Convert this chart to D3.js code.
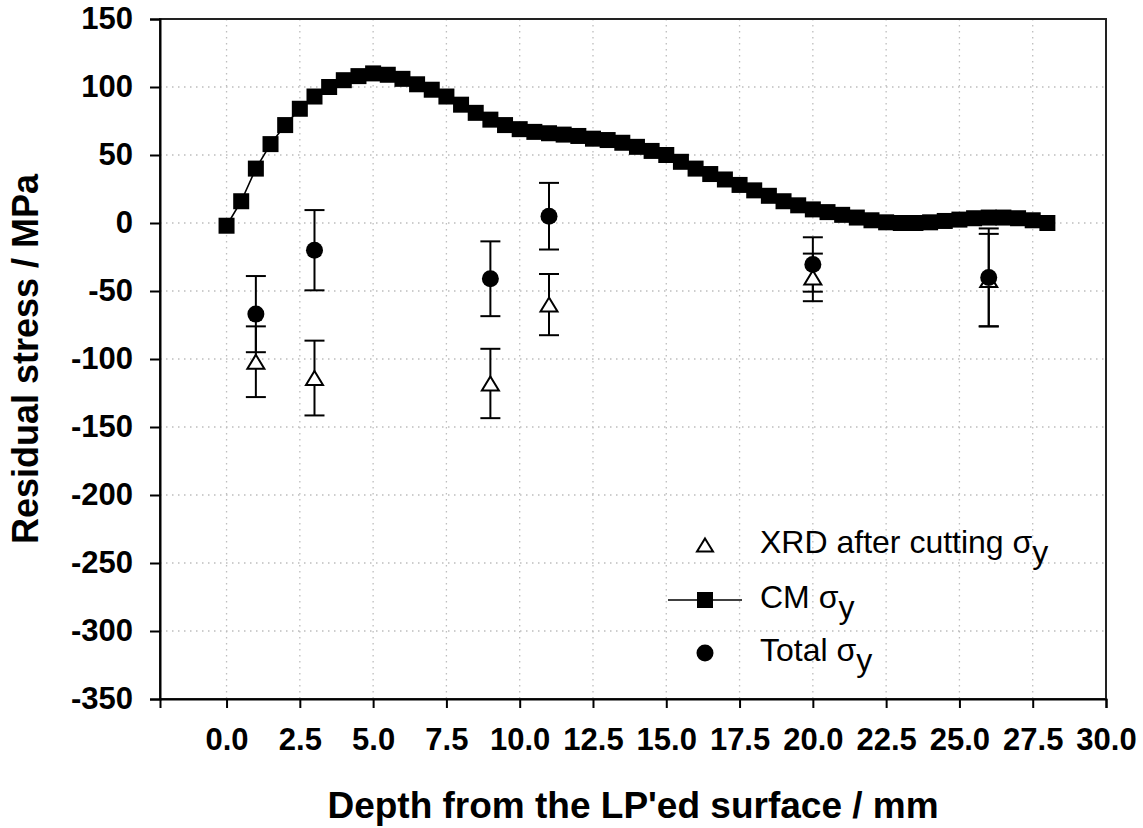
<!DOCTYPE html>
<html>
<head>
<meta charset="utf-8">
<script src="https://cdn.jsdelivr.net/npm/d3@7"></script>
<style>
  body { margin: 0; background: #fff; }
  text { font-family: "Liberation Sans", Arial, sans-serif; }
</style>
</head>
<body>
<svg id="chart"></svg>
<script>
// CM sigma_y profile (depth in mm, stress in MPa)
const cmDepth = [0, 0.5, 1, 1.5, 2, 2.5, 3, 3.5, 4, 4.5, 5, 5.5, 6, 6.5, 7, 7.5, 8, 8.5, 9, 9.5,
                 10, 10.5, 11, 11.5, 12, 12.5, 13, 13.5, 14, 14.5, 15, 15.5, 16, 16.5, 17, 17.5,
                 18, 18.5, 19, 19.5, 20, 20.5, 21, 21.5, 22, 22.5, 23, 23.5, 24, 24.5, 25, 25.5,
                 26, 26.5, 27, 27.5, 28];
const cmStress = [-2, 16, 40, 58, 72, 84, 93, 100, 105, 108, 110, 109, 106, 102, 98, 93, 87, 81, 76, 72,
                  69, 67, 66, 65, 64, 62, 61, 59, 56, 53, 50, 45, 40, 36, 32, 28,
                  24, 20, 16, 13, 10, 8, 6, 4, 2, 0.5, 0, 0, 0.5, 1.5, 2.5, 3.5,
                  4, 4, 3.5, 2, 0];

// XRD after cutting sigma_y
const xrdDepth = [1, 3, 9, 11, 20, 26];
const xrdStress = [-102, -114, -118, -60, -40, -42];
const xrdErr = [26, 27.5, 25.5, 22.5, 17.5, 34];

// Total sigma_y
const totDepth = [1, 3, 9, 11, 20, 26];
const totStress = [-67, -20, -41, 5, -30.5, -40];
const totErr = [28, 29.5, 27.5, 24.5, 20, 36];

const xTicks = [0, 2.5, 5, 7.5, 10, 12.5, 15, 17.5, 20, 22.5, 25, 27.5, 30];
const yTicks = [150, 100, 50, 0, -50, -100, -150, -200, -250, -300, -350];

const legendItems = ["XRD after cutting ", "CM ", "Total "];

const W = 1143, H = 828;
const L = 160, R = 1106, T = 19, B = 699;

const svg = d3.select("#chart").attr("width", W).attr("height", H);

const x = d3.scaleLinear().domain([-2.27, 30]).range([L, R]);
const y = d3.scaleLinear().domain([-350, 150]).range([B, T]);

// dotted grid
const grid = svg.append("g");
grid.selectAll("line.gx")
  .data(xTicks.filter(d => d < 30))
  .enter().append("line")
    .attr("x1", d => x(d)).attr("x2", d => x(d))
    .attr("y1", T).attr("y2", B)
    .attr("stroke", "#bdbdbd").attr("stroke-width", 1.3)
    .attr("stroke-dasharray", "1.5,4.5");
grid.selectAll("line.gy")
  .data(yTicks.filter(d => d < 150 && d > -350))
  .enter().append("line")
    .attr("x1", L).attr("x2", R)
    .attr("y1", d => y(d)).attr("y2", d => y(d))
    .attr("stroke", "#bdbdbd").attr("stroke-width", 1.3)
    .attr("stroke-dasharray", "1.5,4.5");

// frame
svg.append("rect")
  .attr("x", L).attr("y", T).attr("width", R - L).attr("height", B - T)
  .attr("fill", "none").attr("stroke", "#222").attr("stroke-width", 2);

// axes
const xAxis = svg.append("g")
  .attr("transform", `translate(0,${B})`)
  .call(d3.axisBottom(x).tickValues(xTicks).tickSize(9).tickPadding(20)
    .tickFormat(d3.format(".1f")));
const yAxis = svg.append("g")
  .attr("transform", `translate(${L},0)`)
  .call(d3.axisLeft(y).tickValues(yTicks).tickSize(10).tickPadding(17)
    .tickFormat(d => String(d)));

[xAxis, yAxis].forEach(a => {
  a.select(".domain").attr("stroke", "#000").attr("stroke-width", 2);
  a.selectAll(".tick line").attr("stroke", "#000").attr("stroke-width", 2);
  a.selectAll(".tick text")
    .attr("fill", "#000")
    .style("font-size", "31px").style("font-weight", "bold")
    .style("font-family", "'Liberation Sans', Arial, sans-serif");
});
xAxis.selectAll(".tick text").attr("dy", "0.71em");

// axis titles
svg.append("text")
  .attr("x", (L + R) / 2).attr("y", 818)
  .attr("text-anchor", "middle")
  .style("font-size", "37px").style("font-weight", "bold")
  .text("Depth from the LP'ed surface / mm");

svg.append("text")
  .attr("transform", `translate(38,${(T + B) / 2}) rotate(-90)`)
  .attr("text-anchor", "middle")
  .style("font-size", "36px").style("font-weight", "bold")
  .text("Residual stress / MPa");

// CM line with square markers
const cm = cmDepth.map((d, i) => ({ x: d, y: cmStress[i] }));
svg.append("path")
  .datum(cm)
  .attr("fill", "none").attr("stroke", "#000").attr("stroke-width", 1.6)
  .attr("d", d3.line().x(d => x(d.x)).y(d => y(d.y)));
svg.selectAll("rect.sq")
  .data(cm)
  .enter().append("rect")
    .attr("x", d => x(d.x) - 8).attr("y", d => y(d.y) - 8)
    .attr("width", 16).attr("height", 16)
    .attr("fill", "#000");

// error bars
function errorBars(depth, val, err) {
  const g = svg.append("g").attr("stroke", "#000").attr("stroke-width", 2);
  depth.forEach((d, i) => {
    const cx = x(d), top = y(val[i] + err[i]), bot = y(val[i] - err[i]);
    g.append("line").attr("x1", cx).attr("x2", cx).attr("y1", top).attr("y2", bot);
    g.append("line").attr("x1", cx - 10).attr("x2", cx + 10).attr("y1", top).attr("y2", top);
    g.append("line").attr("x1", cx - 10).attr("x2", cx + 10).attr("y1", bot).attr("y2", bot);
  });
}
errorBars(xrdDepth, xrdStress, xrdErr);
errorBars(totDepth, totStress, totErr);

const triPath = (w, h) => `M0,${-h / 2}L${w / 2},${h / 2}L${-w / 2},${h / 2}Z`;

// XRD triangles
svg.selectAll("path.tri")
  .data(xrdDepth)
  .enter().append("path")
    .attr("d", triPath(17, 14))
    .attr("transform", (d, i) => `translate(${x(d)},${y(xrdStress[i])})`)
    .attr("fill", "#fff").attr("stroke", "#000").attr("stroke-width", 2);

// Total circles
svg.selectAll("circle.tot")
  .data(totDepth)
  .enter().append("circle")
    .attr("cx", d => x(d)).attr("cy", (d, i) => y(totStress[i]))
    .attr("r", 8.5).attr("fill", "#000");

// legend
const lg = svg.append("g");
const lx = 705, rows = [545, 600, 653], textX = 760;
lg.append("path").attr("d", triPath(16, 13))
  .attr("transform", `translate(${lx},${rows[0]})`)
  .attr("fill", "#fff").attr("stroke", "#000").attr("stroke-width", 2);
lg.append("line").attr("x1", 668).attr("x2", 742).attr("y1", rows[1]).attr("y2", rows[1])
  .attr("stroke", "#000").attr("stroke-width", 1.6);
lg.append("rect").attr("x", lx - 8).attr("y", rows[1] - 8).attr("width", 16).attr("height", 16)
  .attr("fill", "#000");
lg.append("circle").attr("cx", lx).attr("cy", rows[2]).attr("r", 8.5).attr("fill", "#000");

legendItems.forEach((t, i) => {
  const txt = lg.append("text")
    .attr("x", textX).attr("y", rows[i] + 8)
    .style("font-size", "32px").attr("fill", "#000");
  txt.append("tspan").text(t + "σ");
  txt.append("tspan").attr("dy", 10).text("y");
});
</script>
</body>
</html>
